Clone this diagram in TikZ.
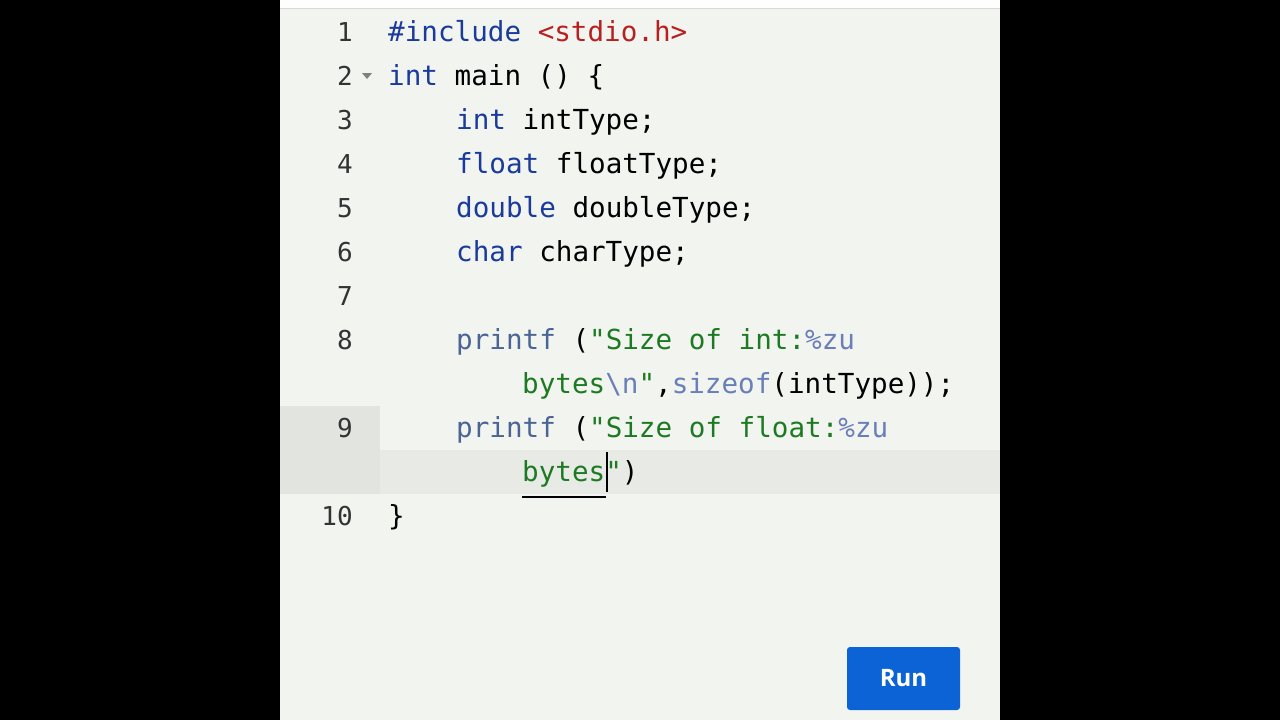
\documentclass[tikz,border=0pt]{standalone}
\usepackage{fontspec}
\setmonofont{DejaVu Sans Mono}
\setsansfont{Open Sans}
\definecolor{kw}{HTML}{1A3A9C}
\definecolor{st}{HTML}{1E7A22}
\definecolor{inc}{HTML}{B82020}
\definecolor{fm}{HTML}{6A7FB8}
\definecolor{fn}{HTML}{4A6494}
\definecolor{num}{HTML}{333333}
\definecolor{panel}{HTML}{F2F4F0}
\definecolor{gut}{HTML}{E2E4E0}
\definecolor{rowhl}{HTML}{E8EAE6}
\definecolor{runb}{HTML}{0B63D6}
\tikzset{code/.style={anchor=base west,inner sep=0,font=\ttfamily\fontsize{27.6}{30}\selectfont,text=black},
 lnum/.style={anchor=base east,inner sep=0,font=\ttfamily\fontsize{26}{30}\selectfont,text=num}}
\begin{document}
\begin{tikzpicture}[x=1pt,y=-1pt]
\fill[black] (0,0) rectangle (1280,720);
\fill[panel] (280,0) rectangle (1000,720);
\fill[white!90!panel] (280,0) rectangle (1000,8);
\draw[gray!30] (280,8) -- (1000,8);
\fill[gut] (280,406) rectangle (380,494);
\fill[rowhl] (380,450) rectangle (1000,494);
\foreach \n/\y in {1/41,2/85,3/129,4/173,5/217,6/261,7/305,8/349,9/437,10/525}
  \node[lnum] (n\n) at (353,\y) {\n};
\fill[gray] (362,73) -- (372,73) -- (367,79) -- cycle;
\node[code] (l1) at (388,41) {\textcolor{kw}{\#include} \textcolor{inc}{<stdio.h>}};
\node[code] (l2) at (388,85) {\textcolor{kw}{int} main () \{};
\node[code] (l3) at (456,129) {\textcolor{kw}{int} intType;};
\node[code] (l4) at (456,173) {\textcolor{kw}{float} floatType;};
\node[code] (l5) at (456,217) {\textcolor{kw}{double} doubleType;};
\node[code] (l6) at (456,261) {\textcolor{kw}{char} charType;};
\node[code] (l8) at (456,349) {\textcolor{fn}{printf} (\textcolor{st}{"Size of int:}\textcolor{fm}{\%zu}};
\node[code] (l8b) at (522,393) {\textcolor{st}{bytes}\textcolor{fm}{\textbackslash n}\textcolor{st}{"},\textcolor{fm}{sizeof}(intType));};
\node[code] (l9) at (456,437) {\textcolor{fn}{printf} (\textcolor{st}{"Size of float:}\textcolor{fm}{\%zu}};
\node[code] (l9b) at (522,481) {\textcolor{st}{bytes"})};
\node[code] (l10) at (388,525) {\}};
\draw[black,line width=2pt] (607,452) -- (607,492);
\draw[black,line width=1.5pt] (522,497) -- (606,497);
\fill[runb,rounded corners=3pt] (847,647) rectangle (960,710);
\node[text=white,font=\sffamily\bfseries\fontsize{24}{28}\selectfont] (run) at (903.5,678) {Run};
\end{tikzpicture}
\end{document}
